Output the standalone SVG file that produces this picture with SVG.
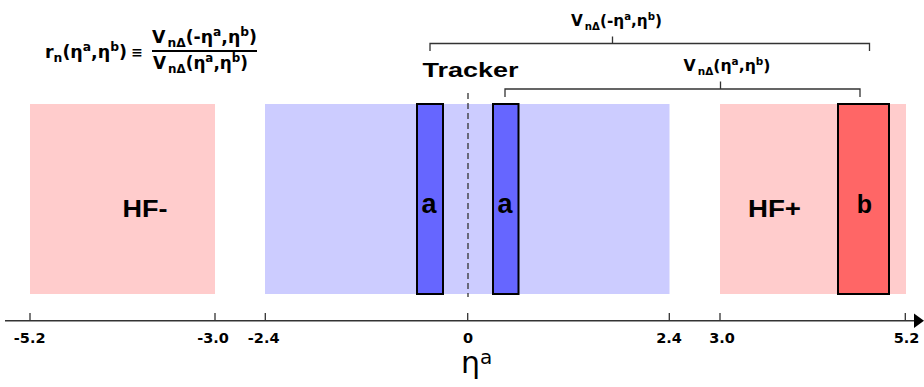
<svg xmlns="http://www.w3.org/2000/svg" width="924" height="387" viewBox="0 0 924 387">
<style>
.b{font-family:"Liberation Sans",Arial,sans-serif;font-weight:bold;fill:#000}
.v{font-family:"DejaVu Sans",Verdana,sans-serif;font-weight:bold;fill:#000}
.tick{font-family:"DejaVu Sans",Verdana,sans-serif;font-weight:bold;font-size:14.5px;text-anchor:middle}
.ln{stroke:#333;stroke-width:1.3;fill:none}
.box{stroke:#000;stroke-width:2}
</style>
<rect width="924" height="387" fill="#fff"/>
<g id="hfminus">
<rect x="30" y="104" width="185" height="190" fill="#ffcccc"/>
<text class="b" x="122.5" y="217" font-size="23" textLength="45" lengthAdjust="spacingAndGlyphs">HF-</text>
</g>
<g id="tracker">
<rect x="265" y="104" width="404.5" height="190" fill="#ccccff"/>
<text class="b" x="422.5" y="77" font-size="21" textLength="96" lengthAdjust="spacingAndGlyphs">Tracker</text>
</g>
<g id="hfplus">
<rect x="720" y="104" width="186" height="190" fill="#ffcccc"/>
<text class="b" x="748" y="217" font-size="23" textLength="53" lengthAdjust="spacingAndGlyphs">HF+</text>
</g>
<g id="center-line">
<line x1="468" y1="93" x2="468" y2="297" stroke="#333" stroke-width="1.3" stroke-dasharray="6,4"/>
</g>
<g id="a-left">
<rect class="box" x="417" y="104" width="26" height="190" fill="#6666ff"/>
<text class="b" x="429" y="213" font-size="27" text-anchor="middle">a</text>
</g>
<g id="a-right">
<rect class="box" x="493" y="104" width="25.5" height="190" fill="#6666ff"/>
<text class="b" x="505" y="213" font-size="27" text-anchor="middle">a</text>
</g>
<g id="b-box">
<rect class="box" x="838" y="104" width="51" height="190" fill="#ff6666"/>
<text class="b" x="864.5" y="213" font-size="25" text-anchor="middle">b</text>
</g>
<g id="connectors">
<path class="ln" d="M430,51 V43.5 H869.5 V51 M612.5,43.5 V36.5"/>
<path class="ln" d="M505,97 V89 H860 V97 M720.5,89 V81.5"/>
</g>
<g id="label-top">
<text class="v" x="571" y="26" font-size="15" textLength="91" lengthAdjust="spacingAndGlyphs">V<tspan dx="2" dy="4" font-size="10">nΔ</tspan><tspan dy="-4">(-η</tspan><tspan dy="-6" font-size="10">a</tspan><tspan dy="6">,η</tspan><tspan dy="-6" font-size="10">b</tspan><tspan dy="6">)</tspan></text>
</g>
<g id="label-second">
<text class="v" x="683.5" y="71" font-size="15" textLength="87" lengthAdjust="spacingAndGlyphs">V<tspan dx="2" dy="4" font-size="10">nΔ</tspan><tspan dy="-4">(η</tspan><tspan dy="-6" font-size="10">a</tspan><tspan dy="6">,η</tspan><tspan dy="-6" font-size="10">b</tspan><tspan dy="6">)</tspan></text>
</g>
<g id="formula">
<text class="v" x="45" y="58" font-size="17" textLength="82" lengthAdjust="spacingAndGlyphs">r<tspan dy="4" font-size="12">n</tspan><tspan dy="-4">(η</tspan><tspan dy="-7" font-size="12">a</tspan><tspan dy="7">,η</tspan><tspan dy="-7" font-size="12">b</tspan><tspan dy="7">)</tspan></text>
<text class="v" x="137" y="57" font-size="14" text-anchor="middle">≡</text>
<text class="v" x="152" y="43" font-size="17" textLength="105" lengthAdjust="spacingAndGlyphs">V<tspan dx="2" dy="4" font-size="12">nΔ</tspan><tspan dy="-4">(-η</tspan><tspan dy="-7" font-size="12">a</tspan><tspan dy="7">,η</tspan><tspan dy="-7" font-size="12">b</tspan><tspan dy="7">)</tspan></text>
<line x1="152" y1="51" x2="257" y2="51" stroke="#000" stroke-width="2"/>
<text class="v" x="153" y="68.5" font-size="17" textLength="95" lengthAdjust="spacingAndGlyphs">V<tspan dx="2" dy="4" font-size="12">nΔ</tspan><tspan dy="-4">(η</tspan><tspan dy="-7" font-size="12">a</tspan><tspan dy="7">,η</tspan><tspan dy="-7" font-size="12">b</tspan><tspan dy="7">)</tspan></text>
</g>
<g id="axis">
<line x1="5" y1="320.7" x2="916" y2="320.7" stroke="#333" stroke-width="1.5"/>
<polygon points="924,320.7 914,313.5 914,328" fill="#000"/>
<path class="ln" d="M30,313 V320.7 M215,313 V320.7 M265.3,313 V320.7 M467.7,313 V320.7 M669.3,313 V320.7 M720,313 V320.7 M905.3,313 V320.7"/>
<text class="tick" x="29.7" y="343">-5.2</text>
<text class="tick" x="213" y="343">-3.0</text>
<text class="tick" x="263.7" y="343">-2.4</text>
<text class="tick" x="468" y="343">0</text>
<text class="tick" x="669" y="343">2.4</text>
<text class="tick" x="722" y="343">3.0</text>
<text class="tick" x="906.5" y="343">5.2</text>
<text x="461" y="373" font-family="'DejaVu Sans',sans-serif" font-size="30">η<tspan dy="-9" font-size="20">a</tspan></text>
</g>
</svg>
